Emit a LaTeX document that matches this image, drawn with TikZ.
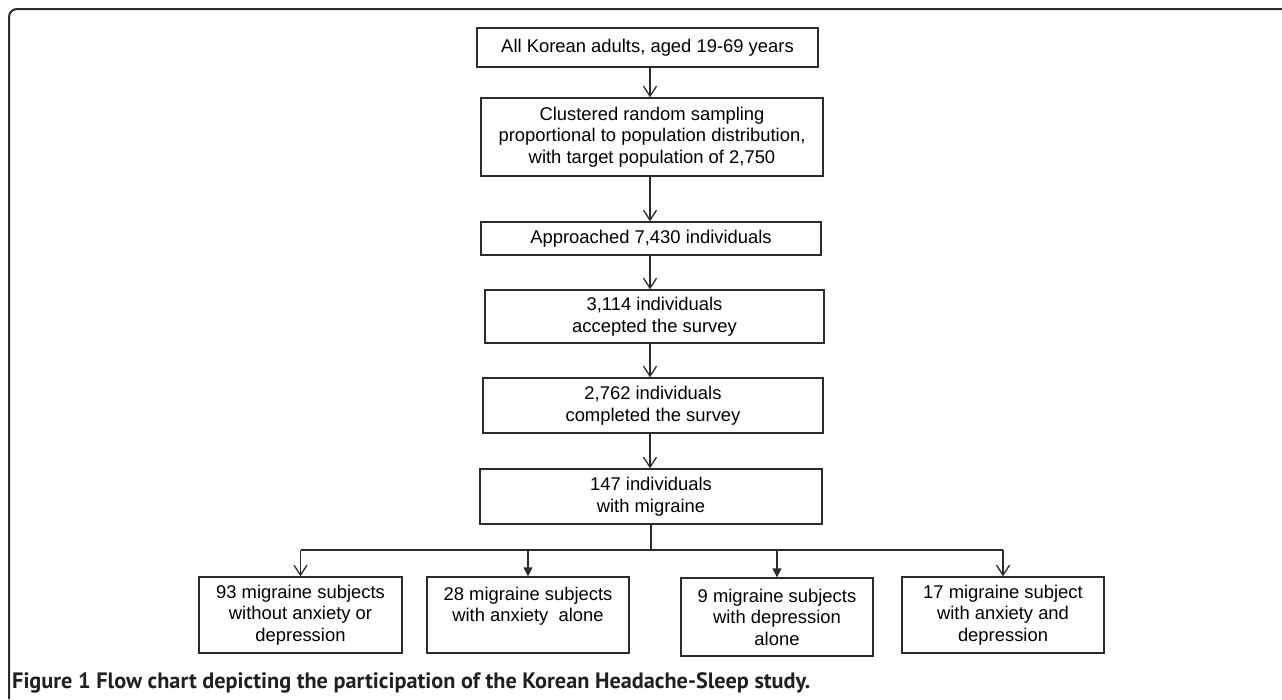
\documentclass[tikz,border=0pt]{standalone}
\usepackage{fontspec}
\setmainfont{Liberation Sans}
\newfontfamily\capfont{PT Sans}
\usetikzlibrary{arrows.meta}
\definecolor{linegray}{HTML}{2B2B2B}
\definecolor{capgray}{HTML}{231F20}
\tikzset{
  box/.style={draw=linegray, line width=1.3pt, align=center, inner sep=0pt,
    font=\fontsize{18.4}{21.5}\selectfont, text=black},
  openarr/.style={draw=linegray, line width=1.3pt, -{Straight Barb[length=10pt,width=13pt,line width=1.3pt]}},
  fillarr/.style={draw=linegray, line width=1.3pt, -{Triangle[length=9pt,width=9pt]}},
  plain/.style={draw=linegray, line width=1.3pt},
  frame/.style={draw=linegray, line width=2pt, rounded corners=8pt}
}
\begin{document}
\begin{tikzpicture}[x=1pt,y=-1pt]
\useasboundingbox (0,0) rectangle (1282,699);
\draw[frame] (9,699) -- (9,9) -- (1290,9);

\node[box, minimum width=341pt, minimum height=39pt] (b1) at (647.5,47.5) {All Korean adults, aged 19-69 years};
\node[box, minimum width=342pt, minimum height=78pt] (b2) at (652,137) {Clustered random sampling\\proportional to population distribution,\\with target population of 2,750};
\node[box, minimum width=340pt, minimum height=33pt] (b3) at (651,238.5) {Approached 7,430 individuals};
\node[box, minimum width=339pt, minimum height=53pt] (b4) at (654.5,316.5) {3,114 individuals\\accepted the survey};
\node[box, minimum width=340pt, minimum height=55pt] (b5) at (653,405.5) {2,762 individuals\\completed the survey};
\node[box, minimum width=342pt, minimum height=55pt] (b6) at (651,496.5) {147 individuals\\with migraine};

\node[box, minimum width=203pt, minimum height=76pt] (c1) at (300.5,615) {93 migraine subjects\\without anxiety or\\depression};
\node[box, minimum width=202pt, minimum height=76pt] (c2) at (528,615) {28 migraine subjects\\with anxiety~ alone\\\phantom{x}};
\node[box, minimum width=192pt, minimum height=78pt] (c3) at (777,617) {9 migraine subjects\\with depression\\alone};
\node[box, minimum width=202pt, minimum height=76pt] (c4) at (1003,615) {17 migraine subject\\with anxiety and\\depression};

\coordinate (a1) at (650,0);
\draw[openarr] (b1.south -| a1) -- (b2.north -| a1);
\draw[openarr] (b2.south -| a1) -- (b3.north -| a1);
\draw[openarr] (b3.south -| a1) -- (b4.north -| a1);
\draw[openarr] (b4.south -| a1) -- (b5.north -| a1);
\draw[openarr] (b5.south -| a1) -- (b6.north -| a1);

\coordinate (j) at (651,550);
\draw[plain] (b6.south -| j) -- (j);
\draw[plain] (j -| c1) -- (j -| c4);
\draw[openarr] (j -| c1) -- (c1.north);
\draw[fillarr] (j -| c2) -- (c2.north);
\draw[fillarr] (j -| c3) -- (c3.north);
\draw[openarr] (j -| c4) -- (c4.north);

\node[anchor=base west, inner sep=0pt, text=capgray] (cap) at (12,688)
  {\resizebox{798pt}{!}{\capfont\bfseries\fontsize{19}{22}\selectfont Figure 1 Flow chart depicting the participation of the Korean Headache-Sleep study.}};
\end{tikzpicture}
\end{document}
